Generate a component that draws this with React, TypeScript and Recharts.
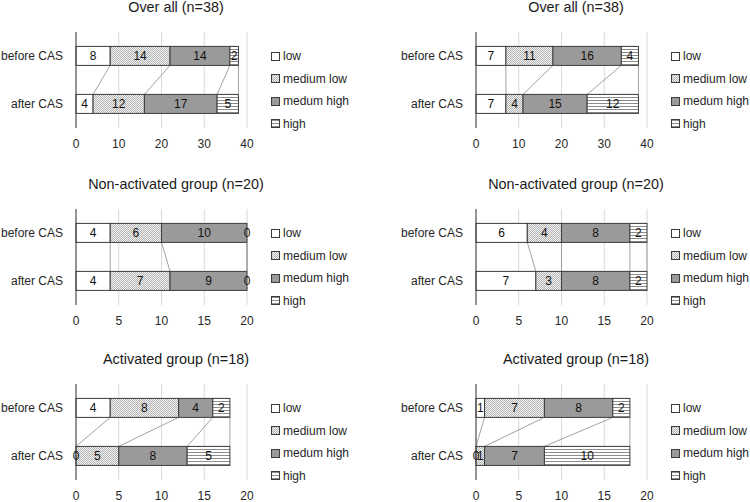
import React from 'react';
import { Bar, BarChart, CartesianGrid, LabelList, Legend, XAxis, YAxis } from 'recharts';

// categories and series names
const rows = ['before CAS', 'after CAS'];
const levels = ['low', 'medium low', 'medum high', 'high'];
const levelKeys = ['low', 'mlow', 'mhigh', 'high'];

// panel titles and axis ticks
const titles = ['Over all (n=38)', 'Non-activated group (n=20)', 'Activated group (n=18)'];
const ticks40 = [0, 10, 20, 30, 40];
const ticks20 = [0, 5, 10, 15, 20];

// left column (low, medium low, medum high, high)
const overallLeftBefore = [8, 14, 14, 2];
const overallLeftAfter = [4, 12, 17, 5];
const nonActLeftBefore = [4, 6, 10, 0];
const nonActLeftAfter = [4, 7, 9, 0];
const actLeftBefore = [4, 8, 4, 2];
const actLeftAfter = [0, 5, 8, 5];

// right column
const overallRightBefore = [7, 11, 16, 4];
const overallRightAfter = [7, 4, 15, 12];
const nonActRightBefore = [6, 4, 8, 2];
const nonActRightAfter = [7, 3, 8, 2];
const actRightBefore = [1, 7, 8, 2];
const actRightAfter = [0, 1, 7, 10];

const fills = ['#ffffff', 'url(#patMLow)', '#9a9a9a', 'url(#patHigh)'];
const EDGE = '#3c3c3c';
const FONT = '"Liberation Sans", Arial, sans-serif';

function toRows(before: number[], after: number[]) {
  return [before, after].map((vals, i) => {
    const row: Record<string, any> = { name: rows[i] };
    levelKeys.forEach((k, j) => (row[k] = vals[j]));
    return row;
  });
}

function LegendBox({ payload }: any) {
  const items = [...(payload || [])].sort(
    (a: any, b: any) => levels.indexOf(a.value) - levels.indexOf(b.value)
  );
  return (
    <div>
      {items.map((it: any) => (
        <div key={it.value} style={{ height: 22.5, display: 'flex', alignItems: 'center' }}>
          <svg width={9} height={9} style={{ marginRight: 3 }}>
            <rect x={0.5} y={0.5} width={8} height={8} fill={it.color} stroke={EDGE} />
          </svg>
          <span style={{ fontSize: 12, color: '#262626' }}>{it.value}</span>
        </div>
      ))}
    </div>
  );
}

interface PanelProps {
  title: string;
  before: number[];
  after: number[];
  max: number;
  ticks: number[];
  left: number;
  top: number;
}

function Panel({ title, before, after, max, ticks, left, top }: PanelProps) {
  const data = toRows(before, after);
  // ends of each segment in the "before" bar, used for the series lines
  const ends: Record<string, { x: number; y: number }> = {};

  const makeShape = (key: string) => (props: any) => {
    const { x, y, width, height, payload, fill } = props;
    const end = x + width;
    let link = null;
    if (payload.name === rows[0]) {
      ends[key] = { x: end, y: y + height };
    } else if (ends[key]) {
      link = (
        <line x1={ends[key].x} y1={ends[key].y} x2={end} y2={y} stroke="#8a8a8a" strokeWidth={0.8} />
      );
    }
    return (
      <g>
        {width > 0 && <rect x={x} y={y} width={width} height={height} fill={fill} stroke={EDGE} strokeWidth={1} />}
        {link}
      </g>
    );
  };

  return (
    <div style={{ position: 'absolute', left, top, width: 350, height: 158 }}>
      <div
        style={{
          position: 'absolute',
          left: 0,
          top: 0,
          width: 352,
          textAlign: 'center',
          fontSize: 14.4,
          lineHeight: '15px',
          color: '#1a1a1a',
        }}
      >
        {title}
      </div>
      <BarChart
        width={350}
        height={158}
        data={data}
        layout="vertical"
        barCategoryGap="30%"
        margin={{ top: 32, right: 0, bottom: 0, left: 0 }}
      >
        <CartesianGrid horizontal={false} stroke="#d9d9d9" />
        <XAxis
          type="number"
          domain={[0, max]}
          ticks={ticks}
          interval={0}
          axisLine={false}
          tickLine={false}
          tickMargin={5}
          height={30}
          tick={{ fill: '#262626', fontSize: 12 }}
        />
        <YAxis
          type="category"
          dataKey="name"
          width={76}
          axisLine={{ stroke: EDGE }}
          tickLine={false}
          tickMargin={7}
          tick={{ fill: '#262626', fontSize: 12 }}
        />
        <Legend
          layout="vertical"
          align="right"
          verticalAlign="top"
          content={<LegendBox />}
          wrapperStyle={{ width: 103, top: 45, paddingLeft: 24, boxSizing: 'border-box' }}
        />
        {levelKeys.map((k, i) => (
          <Bar
            key={k}
            dataKey={k}
            name={levels[i]}
            stackId="a"
            fill={fills[i]}
            stroke={EDGE}
            shape={makeShape(k)}
            isAnimationActive={false}
          >
            <LabelList dataKey={k} position="center" fill="#111" fontSize={12} />
          </Bar>
        ))}
      </BarChart>
    </div>
  );
}

export default function App() {
  return (
    <div
      style={{
        position: 'absolute',
        left: 0,
        top: 0,
        width: 750,
        height: 502,
        background: '#fff',
        overflow: 'hidden',
        fontFamily: FONT,
      }}
    >
      <svg width={0} height={0} style={{ position: 'absolute' }}>
        <defs>
          <pattern id="patMLow" width={2} height={2} patternUnits="userSpaceOnUse">
            <rect width={2} height={2} fill="#f2f2f2" />
            <rect x={0} y={0} width={1} height={1} fill="#b4b4b4" />
            <rect x={1} y={1} width={1} height={1} fill="#b4b4b4" />
          </pattern>
          <pattern id="patHigh" width={4} height={3} patternUnits="userSpaceOnUse">
            <rect width={4} height={3} fill="#ffffff" />
            <rect x={0} y={1} width={4} height={1} fill="#8c8c8c" />
          </pattern>
        </defs>
      </svg>
      <Panel title={titles[0]} before={overallLeftBefore} after={overallLeftAfter} max={40} ticks={ticks40} left={0} top={0} />
      <Panel title={titles[0]} before={overallRightBefore} after={overallRightAfter} max={40} ticks={ticks40} left={400} top={0} />
      <Panel title={titles[1]} before={nonActLeftBefore} after={nonActLeftAfter} max={20} ticks={ticks20} left={0} top={177} />
      <Panel title={titles[1]} before={nonActRightBefore} after={nonActRightAfter} max={20} ticks={ticks20} left={400} top={177} />
      <Panel title={titles[2]} before={actLeftBefore} after={actLeftAfter} max={20} ticks={ticks20} left={0} top={352} />
      <Panel title={titles[2]} before={actRightBefore} after={actRightAfter} max={20} ticks={ticks20} left={400} top={352} />
    </div>
  );
}
